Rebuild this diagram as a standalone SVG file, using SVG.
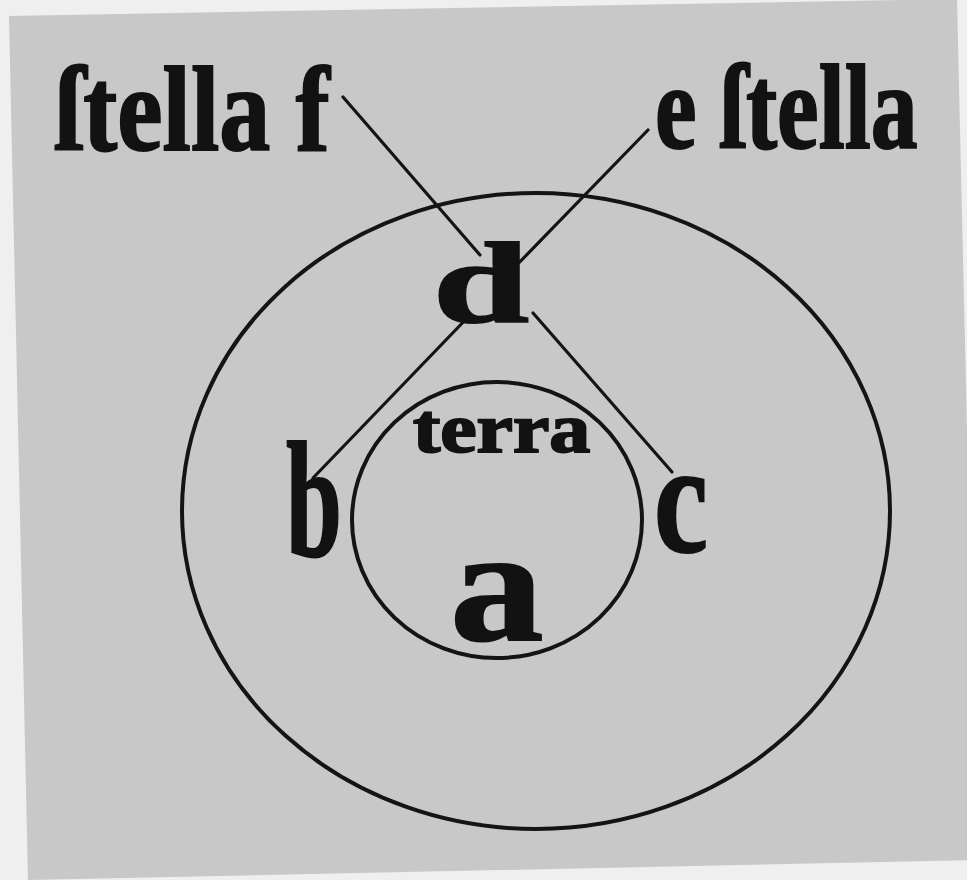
<svg xmlns="http://www.w3.org/2000/svg" width="967" height="880" viewBox="0 0 967 880">
  <style>
    .lbl { font-family: "Liberation Serif", "DejaVu Serif", serif; font-weight: bold; fill: #121212; stroke: #121212; stroke-width: 2; stroke-linejoin: miter; }
    .orb { fill: none; stroke: #141414; stroke-width: 4; }
    .con { stroke: #141414; stroke-width: 3.2; stroke-linecap: round; fill: none; }
  </style>
  <rect x="0" y="0" width="967" height="880" fill="#efefef"/>
  <polygon points="9,16 957,-1 977,860 28,880" fill="#c8c8c8"/>
  <g id="orbits">
    <ellipse id="outer-circle" class="orb" cx="536" cy="511" rx="354" ry="318"/>
    <ellipse id="terra-circle" class="orb" cx="497" cy="520" rx="145" ry="138"/>
  </g>
  <g id="connectors">
    <line class="con" x1="343" y1="97" x2="480" y2="255"/>
    <line class="con" x1="648" y1="130" x2="510" y2="272"/>
    <line class="con" x1="470" y1="315" x2="313" y2="478"/>
    <line class="con" x1="533" y1="313" x2="672" y2="472"/>
  </g>
  <g id="stella-f">
    <text class="lbl" transform="translate(55,150) scale(0.85,1)" x="0" y="0" font-size="120">ſtella f</text>
  </g>
  <g id="e-stella">
    <text class="lbl" transform="translate(655,148) scale(0.78,1)" x="0" y="0" font-size="120">e ſtella</text>
  </g>
  <g id="d">
    <text class="lbl" transform="translate(433,322) scale(1.5,1)" x="0" y="0" font-size="115">d</text>
  </g>
  <g id="terra">
    <text class="lbl" transform="translate(413,452) scale(1.17,1)" x="0" y="0" font-size="70">terra</text>
  </g>
  <g id="b">
    <text class="lbl" transform="translate(286,556) scale(0.61,1)" x="0" y="0" font-size="165">b</text>
  </g>
  <g id="c">
    <text class="lbl" transform="translate(654,552) scale(0.775,1)" x="0" y="0" font-size="157">c</text>
  </g>
  <g id="a">
    <text class="lbl" transform="translate(450,640) scale(1.17,1)" x="0" y="0" font-size="160">a</text>
  </g>
</svg>
